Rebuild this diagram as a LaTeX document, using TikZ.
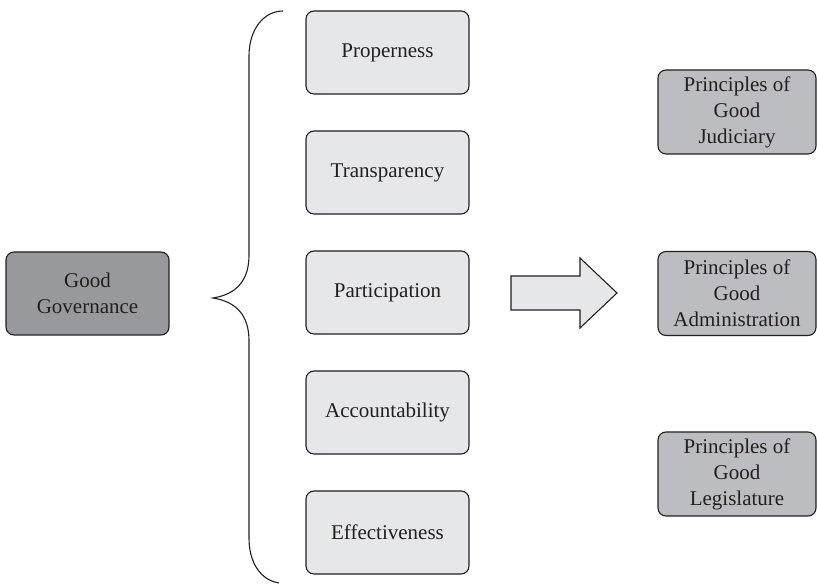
\documentclass[tikz,border=0pt]{standalone}
\usepackage{fontspec}
\setmainfont{Liberation Serif}
\definecolor{ink}{HTML}{231F20}
\definecolor{govgray}{HTML}{98999C}
\definecolor{itemgray}{HTML}{E6E7E8}
\definecolor{pringray}{HTML}{BCBDC0}
\tikzset{
  box/.style={draw=ink, line width=1.1pt, rounded corners=8pt, text=ink,
    align=center, inner sep=0pt, font=\fontsize{21}{26}\selectfont},
  govbox/.style={box, fill=govgray, minimum width=163pt, minimum height=83pt},
  itembox/.style={box, fill=itemgray, minimum width=163pt, minimum height=83pt},
  prinbox/.style={box, fill=pringray, minimum width=158pt, minimum height=84pt},
}
\begin{document}
\begin{tikzpicture}[x=1pt,y=1pt]
  \useasboundingbox (0,0) rectangle (817,584);
  %% left box
  \node[govbox] (gov) at (87.5,290.5) {Good\\Governance};
  %% the brace
  \draw[ink, line width=1.1pt] (283,573) .. controls (264,573) and (249,555) .. (249,528)
    -- (249,329) .. controls (249,305) and (238,290) .. (213,286)
    .. controls (238,282) and (249,267) .. (249,243)
    -- (249,46) .. controls (249,22) and (260,4) .. (279,1);
  %% the five items
  \foreach \n/\t [count=\i] in {prop/Properness,trans/Transparency,part/Participation,acc/Accountability,eff/Effectiveness}
  {
    \node[itembox] (\n) at (387.5,{531.5-120*(\i-1)}) {\t};
  }
  %% the block arrow
  \draw[ink, line width=1.1pt, fill=itemgray] (511,308) -- (580,308) -- (580,326) -- (617,291)
    -- (580,256) -- (580,274) -- (511,274) -- cycle;
  %% the principles
  \node[prinbox] (jud) at (737,472) {Principles of\\Good\\Judiciary};
  \node[prinbox] (adm) at (737,290.5) {Principles of\\Good\\Administration};
  \node[prinbox] (leg) at (737,110) {Principles of\\Good\\Legislature};
\end{tikzpicture}
\end{document}
